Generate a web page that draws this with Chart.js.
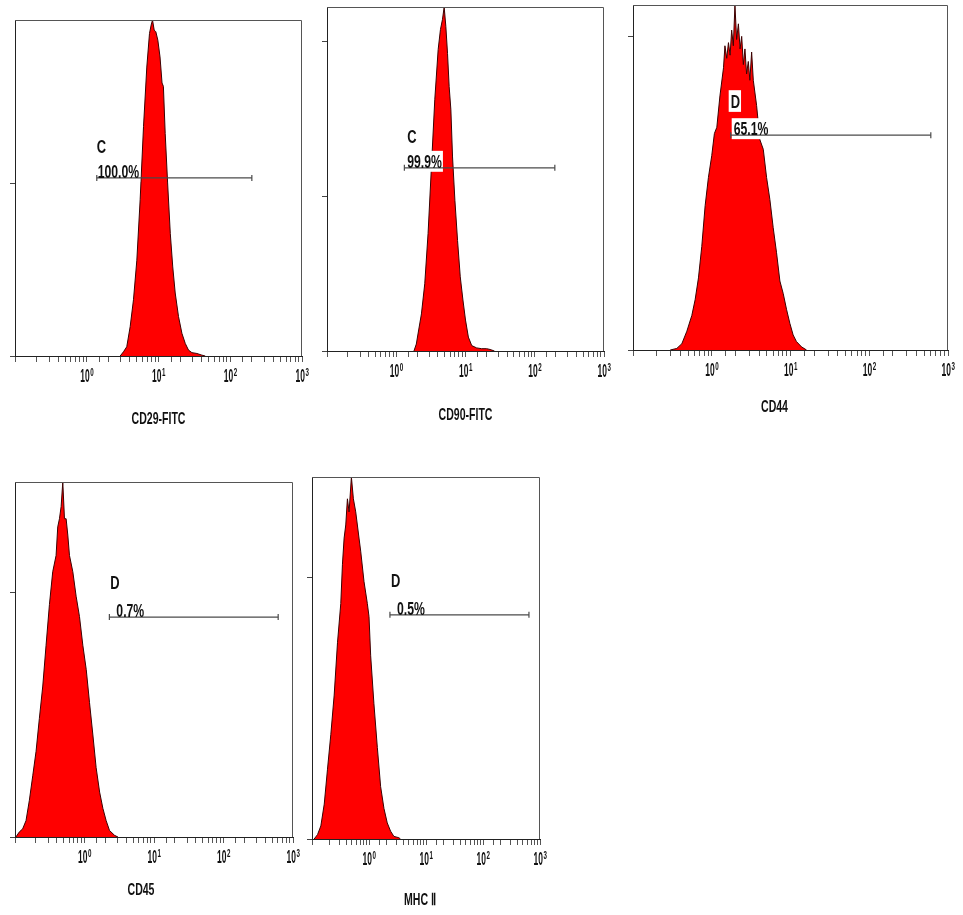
<!DOCTYPE html>
<html lang="en">
<head>
<meta charset="UTF-8">
<title>Flow cytometry histograms</title>
<script src="https://cdn.jsdelivr.net/npm/chart.js"></script>
<style>
  body { margin: 0; background: #fff; width: 963px; height: 915px; position: relative; overflow: hidden; }
  .panel { position: absolute; }
</style>
</head>
<body>
<div class="panel" id="p1"><canvas id="c1"></canvas></div>
<div class="panel" id="p2"><canvas id="c2"></canvas></div>
<div class="panel" id="p3"><canvas id="c3"></canvas></div>
<div class="panel" id="p4"><canvas id="c4"></canvas></div>
<div class="panel" id="p5"><canvas id="c5"></canvas></div>
<script>
// fluorescence intensity (x) and event counts (y)
const cd29X = [2.92, 3.25, 3.61, 4.03, 4.48, 4.99, 5.55, 6.18, 6.87, 7.49, 7.90, 8.25, 8.71, 9.18, 9.79, 10.5, 11.2, 11.7, 12.4, 13.4, 14.6, 15.8, 17.1, 19.0, 21.2, 23.6, 26.2, 29.2, 34.3, 40.3, 44.8];
const cd29Y = [0, 5, 11, 35, 67, 114, 186, 273, 344, 384, 394, 400, 388, 386, 376, 356, 325, 321, 265, 206, 146, 106, 75, 47, 27, 15, 7, 4, 3, 1, 0];

const cd90X = [1.80, 1.95, 2.06, 2.31, 2.58, 2.88, 3.22, 3.60, 4.03, 4.35, 4.65, 4.92, 5.20, 5.50, 5.81, 6.15, 6.50, 7.03, 7.68, 8.40, 9.18, 10.0, 11.0, 12.3, 14.5, 17.1, 20.2, 22.6, 26.2];
const cd90Y = [0, 9, 22, 48, 87, 152, 238, 325, 390, 416, 429, 445, 420, 385, 342, 312, 251, 195, 143, 96, 66, 40, 18, 7, 4, 3, 3, 2, 0];

const cd44X = [0.297, 0.360, 0.417, 0.483, 0.558, 0.615, 0.678, 0.747, 0.824, 0.907, 1.00, 1.08, 1.16, 1.27, 1.41, 1.47, 1.55, 1.63, 1.71, 1.79, 1.88, 1.97, 2.07, 2.18, 2.29, 2.40, 2.52, 2.64, 2.77, 2.91, 3.05, 3.21, 3.37, 3.71, 4.09, 4.51, 4.97, 5.47, 6.03, 6.65, 7.33, 8.08, 8.90, 9.81, 10.8, 11.9, 13.8, 16.0];
const cd44Y = [0, 0.5, 2, 6, 11, 16, 23, 33, 46, 55, 62, 69, 71, 81, 90, 97, 93, 98, 94, 102, 97, 110, 99, 104, 96, 100, 91, 96, 88, 92, 86, 95, 86, 78, 67, 64, 55, 48, 39, 31, 22, 18, 13, 8.5, 4.8, 2.7, 1, 0];

const cd45X = [0.103, 0.115, 0.129, 0.144, 0.161, 0.180, 0.201, 0.224, 0.251, 0.280, 0.313, 0.349, 0.390, 0.412, 0.436, 0.461, 0.487, 0.515, 0.544, 0.575, 0.608, 0.679, 0.758, 0.847, 0.946, 1.06, 1.18, 1.32, 1.47, 1.65, 1.84, 2.05, 2.29, 2.71, 3.03];
const cd45Y = [0, 1.2, 2, 4, 9, 15, 21, 29, 37, 47, 57, 65, 69, 76, 78, 81, 87, 78, 78, 74, 69, 65, 59, 54, 47, 41, 33, 25, 17, 11, 7, 4, 1.6, 0.4, 0];

const mhcX = [0.109, 0.125, 0.143, 0.164, 0.187, 0.214, 0.245, 0.280, 0.320, 0.342, 0.366, 0.391, 0.418, 0.447, 0.491, 0.532, 0.585, 0.668, 0.715, 0.818, 0.935, 1.00, 1.07, 1.22, 1.40, 1.60, 1.83, 2.09, 2.39, 2.73, 3.34, 3.57];
const mhcY = [0, 1, 3, 8, 16, 24, 33, 45, 54, 63, 69, 72, 78, 75, 83, 78, 75, 69, 66, 59, 54, 51, 42, 31, 21, 12, 7, 3.7, 1.8, 0.6, 0.3, 0];

// gates: [from, to, count level], gate names and percentages
const gateNames = ['C', 'C', 'D', 'D', 'D'];
const gatePercents = ['100.0%', '99.9%', '65.1%', '0.7%', '0.5%'];
const gateRanges = [[1.38, 200, 212], [1.31, 195, 237], [1.74, 605, 68.5], [2.28, 612, 53.9], [2.33, 640, 51.4]];
const axisTitles = ['CD29-FITC', 'CD90-FITC', 'CD44', 'CD45', 'MHC \u2161'];
const decadeTicks = [1, 10, 100, 1000];
const decadeExps = ['0', '1', '2', '3'];

const SANS = "'Liberation Sans', Arial, sans-serif";

const panels = [
  { id: 'c1', xs: cd29X, ys: cd29Y, yMax: 400, yTicks: [0, 205], letterAt: [1.38, 242], pctX: 1.42, box: [15, 20, 302, 356], titleGap: 68, titleShift: 0 },
  { id: 'c2', xs: cd90X, ys: cd90Y, yMax: 445, yTicks: [0, 200, 400], letterAt: [1.44, 269], pctX: 1.44, box: [327, 7, 604, 351], titleGap: 69, titleShift: 0 },
  { id: 'c3', xs: cd44X, ys: cd44Y, yMax: 110, yTicks: [0, 100], letterAt: [1.74, 77.2], pctX: 1.90, box: [633, 5, 948, 350], titleGap: 62, titleShift: -16 },
  { id: 'c4', xs: cd45X, ys: cd45Y, yMax: 87, yTicks: [0, 60], letterAt: [2.35, 60.8], pctX: 2.87, box: [15, 482, 293, 837], titleGap: 58, titleShift: -13 },
  { id: 'c5', xs: mhcX, ys: mhcY, yMax: 83, yTicks: [0, 60], letterAt: [2.43, 57.8], pctX: 3.10, box: [312, 477, 540, 839], titleGap: 66, titleShift: -6 }
];

const LEFT = 20, TOP = 6, RIGHT = 14;

// condensed text: draw with a horizontal squeeze, like the narrow cytometer font
function squeezed(ctx, text, x, y, size, sx, align) {
  ctx.font = 'bold ' + size + 'px ' + SANS;
  const w = ctx.measureText(text).width * sx;
  const left = align === 'center' ? x - w / 2 : x;
  ctx.save();
  ctx.translate(left, y);
  ctx.scale(sx, 1);
  ctx.textAlign = 'left';
  ctx.textBaseline = 'alphabetic';
  ctx.fillText(text, 0, 0);
  ctx.restore();
  return w;
}

function textWidth(ctx, text, size, sx) {
  ctx.font = 'bold ' + size + 'px ' + SANS;
  return ctx.measureText(text).width * sx;
}

const gateLabels = {
  id: 'gateLabels',
  afterDatasetDraw(chart, args, opts) {
    if (args.index !== 0) return;
    const ctx = chart.ctx, sx = chart.scales.x, sy = chart.scales.y;
    ctx.save();
    ctx.fillStyle = '#fff';
    opts.items.forEach(it => {
      const w = textWidth(ctx, it.text, it.size, it.sx);
      const px = sx.getPixelForValue(it.at[0]);
      const py = sy.getPixelForValue(it.at[1]);
      const cap = it.size * 0.72;
      ctx.fillRect(px - 2, py - cap - 4, w + 3, cap + 8);
    });
    ctx.restore();
  },
  afterDatasetsDraw(chart, args, opts) {
    const ctx = chart.ctx, sx = chart.scales.x, sy = chart.scales.y;
    const a = chart.chartArea;
    ctx.save();
    ctx.strokeStyle = '#555';
    ctx.lineWidth = 1;
    ctx.beginPath();
    ctx.moveTo(a.left, a.top + 0.5);
    ctx.lineTo(a.right - 0.5, a.top + 0.5);
    ctx.lineTo(a.right - 0.5, a.bottom);
    ctx.stroke();
    ctx.fillStyle = '#111';
    opts.items.forEach(it => {
      squeezed(ctx, it.text, sx.getPixelForValue(it.at[0]), sy.getPixelForValue(it.at[1]), it.size, it.sx, 'left');
    });
    ctx.restore();
  },
  afterDraw(chart, args, opts) {
    const ctx = chart.ctx, sx = chart.scales.x;
    const a = chart.chartArea;
    ctx.save();
    ctx.fillStyle = '#111';
    // decade labels 10^n
    decadeTicks.forEach((v, k) => {
      const px = sx.getPixelForValue(v);
      const base = a.bottom + 26;
      const w1 = textWidth(ctx, '10', 18, 0.47);
      const w2 = textWidth(ctx, decadeExps[k], 10, 0.62);
      const left = px - (w1 + w2) / 2;
      squeezed(ctx, '10', left, base, 18, 0.47, 'left');
      squeezed(ctx, decadeExps[k], left + w1 + 0.5, base - 6, 10, 0.62, 'left');
    });
    // axis title
    const cx = (a.left + a.right) / 2 + opts.titleShift;
    squeezed(ctx, opts.title, cx, a.bottom + opts.titleGap, 17, 0.62, 'center');
    ctx.restore();
  }
};

panels.forEach((p, i) => {
  const [L, T, R, B] = p.box;
  const xh = p.titleGap + 8;
  const div = document.getElementById('p' + (i + 1));
  div.style.left = (L - LEFT) + 'px';
  div.style.top = (T - TOP) + 'px';
  div.style.width = (R - L + LEFT + RIGHT) + 'px';
  div.style.height = (B - T + TOP + xh) + 'px';

  const gate = gateRanges[i];

  new Chart(document.getElementById(p.id), {
    type: 'line',
    data: {
      datasets: [
        {
          data: p.xs.map((x, k) => ({ x: x, y: p.ys[k] })),
          fill: 'origin',
          backgroundColor: '#ff0000',
          borderColor: '#3a0000',
          borderWidth: 1,
          pointRadius: 0,
          tension: 0,
          order: 2
        },
        {
          data: [{ x: gate[0], y: gate[2] }, { x: gate[1], y: gate[2] }],
          borderColor: '#4a4a4a',
          borderWidth: 1.2,
          pointStyle: 'line',
          rotation: 90,
          pointRadius: 3,
          pointBorderColor: '#4a4a4a',
          pointBorderWidth: 1.2,
          fill: false,
          order: 1
        }
      ]
    },
    options: {
      responsive: true,
      maintainAspectRatio: false,
      animation: false,
      events: [],
      layout: { padding: { left: 0, top: TOP, right: RIGHT, bottom: 0 } },
      plugins: {
        legend: { display: false },
        tooltip: { enabled: false },
        gateLabels: {
          title: axisTitles[i],
          titleGap: p.titleGap,
          titleShift: p.titleShift,
          items: [
            { text: gateNames[i], at: p.letterAt, size: 19, sx: 0.68 },
            { text: gatePercents[i], at: [p.pctX, gate[2]], size: 18, sx: 0.68 }
          ]
        }
      },
      scales: {
        x: {
          type: 'logarithmic',
          min: 0.1,
          max: 1000,
          border: { display: true, color: '#222', width: 1 },
          grid: { drawOnChartArea: false, drawTicks: true, tickLength: 6, color: '#555' },
          ticks: { display: false, autoSkip: false },
          afterFit: s => { s.height = xh; s.paddingLeft = 0; s.paddingRight = 0; }
        },
        y: {
          min: 0,
          max: p.yMax,
          border: { display: true, color: '#222', width: 1 },
          grid: { drawOnChartArea: false, drawTicks: true, tickLength: 5, color: '#444' },
          ticks: { display: false },
          afterBuildTicks: s => { s.ticks = p.yTicks.map(v => ({ value: v })); },
          afterFit: s => { s.width = LEFT; }
        }
      }
    },
    plugins: [gateLabels]
  });
});
</script>
</body>
</html>
